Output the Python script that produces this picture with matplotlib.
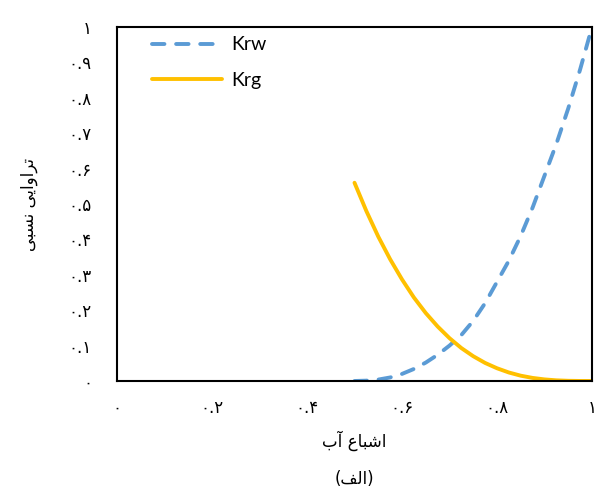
import matplotlib
matplotlib.use("Agg")
import matplotlib.pyplot as plt

# Data
sw = [0.5, 0.525, 0.55, 0.575, 0.6, 0.625, 0.65, 0.675, 0.7, 0.725, 0.75,
      0.775, 0.8, 0.825, 0.85, 0.875, 0.9, 0.925, 0.95, 0.975, 1.0]
krw = [0.0, 0.001, 0.004, 0.01, 0.02, 0.034, 0.052, 0.074, 0.10, 0.13, 0.17,
       0.22, 0.28, 0.34, 0.41, 0.49, 0.58, 0.67, 0.77, 0.88, 1.0]
krg = [0.56, 0.48, 0.408, 0.344, 0.287, 0.236, 0.192, 0.154, 0.121, 0.093, 0.07,
       0.051, 0.036, 0.024, 0.015, 0.0087, 0.0045, 0.0019, 0.0006, 0.0001, 0.0]

series_names = ["Krw", "Krg"]
xticks = [0, 0.2, 0.4, 0.6, 0.8, 1.0]
xtick_labels = ["\u06f0", "\u06f0.\u06f2", "\u06f0.\u06f4", "\u06f0.\u06f6", "\u06f0.\u06f8", "\u06f1"]
yticks = [i / 10 for i in range(11)]
ytick_labels = ["\u06f0"] + ["\u06f0." + chr(0x06f0 + i) for i in range(1, 10)] + ["\u06f1"]

# Persian text in visual order with presentation forms
xlabel = "\ufe8f\ufe81 \ufec9\ufe8e\ufe92\ufeb7\ufe8d"          # اشباع آب
ylabel = "\ufef0\ufe92\ufeb4\ufee7 \ufef0\ufef3\ufe8d\ufeed\ufe8d\ufeae\ufe97"  # تراوایی نسبی
caption = "(\ufed2\ufedf\ufe8d)"                                  # (الف)

fig = plt.figure(figsize=(5.94, 5.0), dpi=100)
ax = fig.add_axes([117 / 594, 1 - 381 / 500, (592 - 117) / 594, (381 - 27) / 500])

ax.plot(sw, krw, color="#5B9BD5", lw=2.8, linestyle=(0, (3.2, 3.0)),
        dash_capstyle="round", label=series_names[0])
ax.plot(sw, krg, color="#FFC000", lw=2.8, solid_capstyle="round",
        label=series_names[1])

ax.set_xlim(0, 1)
ax.set_ylim(0, 1)
ax.set_xticks(xticks)
ax.set_xticklabels(xtick_labels, family="DejaVu Sans", fontsize=12)
ax.set_yticks(yticks)
ax.set_yticklabels(ytick_labels, family="DejaVu Sans", fontsize=12)
ax.tick_params(axis="both", length=0)
ax.tick_params(axis="y", pad=18)
ax.tick_params(axis="x", pad=13)
for s in ax.spines.values():
    s.set_linewidth(1.5)
    s.set_color("black")

ax.set_xlabel(xlabel, family="DejaVu Sans", fontsize=12, labelpad=10)
ax.set_ylabel(ylabel, family="DejaVu Sans", fontsize=12, labelpad=22)
fig.text((117 + 592) / 2 / 594, 1 - 479 / 500, caption, ha="center", va="center",
         family="DejaVu Sans", fontsize=12)

leg = ax.legend(loc="upper left", bbox_to_anchor=(0.045, 1.012), frameon=False,
                prop={"family": "Lato", "size": 14}, handlelength=3.6,
                handletextpad=0.5, labelspacing=0.95, borderaxespad=0.3)

fig.savefig("out.png", dpi=100)
